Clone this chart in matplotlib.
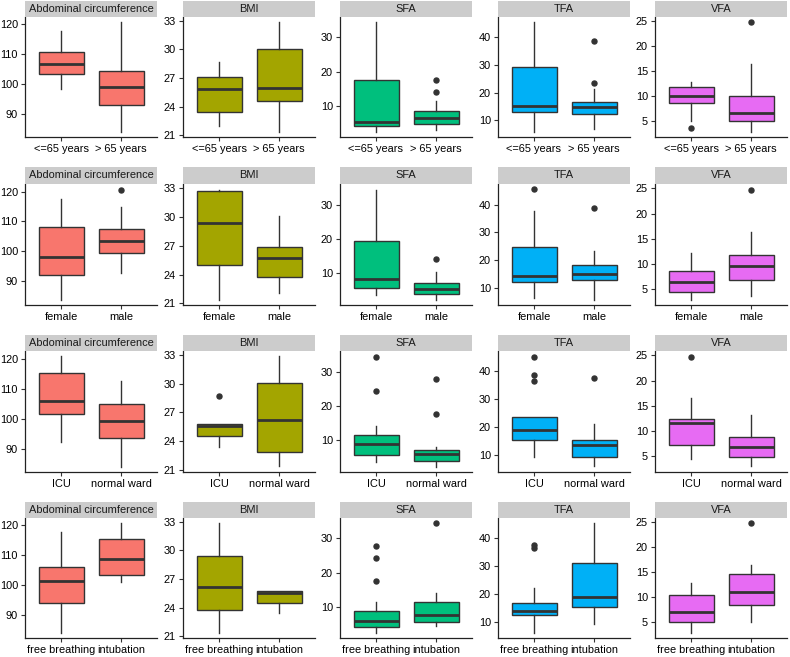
import matplotlib
matplotlib.use("Agg")
import matplotlib.pyplot as plt

plt.rcParams['font.family'] = ['Liberation Sans', 'DejaVu Sans']

variables = ["Abdominal circumference", "BMI", "SFA", "TFA", "VFA"]
colors = ["#F8766D", "#A3A500", "#00BF7D", "#00B0F6", "#E76BF3"]
yticks = [[90, 100, 110, 120], [21, 24, 27, 30, 33], [10, 20, 30],
          [10, 20, 30, 40], [5, 10, 15, 20, 25]]

age_groups = ["<=65 years", "> 65 years"]
sex_groups = ["female", "male"]
ward_groups = ["ICU", "normal ward"]
breath_groups = ["free breathing", "intubation"]

# box statistics per group: (lower whisker, Q1, median, Q3, upper whisker)
age_stats = {
    "Abdominal circumference": [(98.3, 103.4, 106.6, 110.7, 117.8), (84.2, 93.1, 99.2, 104.4, 120.6)],
    "BMI": [(22.0, 23.4, 25.8, 27.1, 28.7), (21.4, 24.6, 25.9, 30.05, 32.8)],
    "SFA": [(2.4, 3.95, 5.3, 17.5, 34.4), (2.9, 4.7, 6.3, 8.5, 11.3)],
    "TFA": [(6.0, 13.2, 15.4, 29.3, 45.4), (6.8, 12.3, 15.0, 16.8, 21.2)],
    "VFA": [(5.1, 8.7, 10.0, 11.9, 12.9), (2.9, 5.1, 6.6, 10.0, 16.4)],
}
age_outliers = {
    "Abdominal circumference": [[], []],
    "BMI": [[], []],
    "SFA": [[], [17.5, 14.1]],
    "TFA": [[], [38.8, 23.7]],
    "VFA": [[3.6], [24.8]],
}

sex_stats = {
    "Abdominal circumference": [(83.9, 92.0, 98.0, 108.2, 117.6), (92.7, 99.4, 103.6, 107.4, 115.0)],
    "BMI": [(21.4, 25.0, 29.4, 32.7, 32.85), (22.05, 23.7, 25.7, 26.86, 30.1)],
    "SFA": [(3.7, 5.7, 8.4, 19.3, 34.4), (2.3, 3.8, 5.3, 7.2, 10.4)],
    "TFA": [(6.7, 12.3, 14.5, 24.9, 37.7), (6.0, 13.0, 15.1, 18.4, 23.5)],
    "VFA": [(3.0, 4.4, 6.4, 8.6, 12.2), (3.7, 6.8, 9.6, 11.9, 16.4)],
}
sex_outliers = {
    "Abdominal circumference": [[], [120.7]],
    "BMI": [[], []],
    "SFA": [[], [14.0]],
    "TFA": [[45.4], [38.8]],
    "VFA": [[], [24.8]],
}

ward_stats = {
    "Abdominal circumference": [(92.1, 101.5, 105.9, 115.1, 120.7), (84.0, 93.5, 99.1, 105.0, 112.5)],
    "BMI": [(23.4, 24.6, 25.55, 25.8, 25.8), (21.4, 22.9, 26.2, 30.07, 32.8)],
    "SFA": [(3.7, 5.8, 8.9, 11.6, 14.1), (2.4, 4.1, 5.9, 7.3, 8.2)],
    "TFA": [(9.2, 15.3, 18.9, 23.6, 23.6), (5.9, 9.2, 13.5, 15.3, 21.3)],
    "VFA": [(4.3, 7.2, 11.5, 12.4, 16.5), (2.9, 4.7, 6.7, 8.8, 13.1)],
}
ward_outliers = {
    "Abdominal circumference": [[], []],
    "BMI": [[28.75], []],
    "SFA": [[34.4, 24.4], [27.9, 17.6]],
    "TFA": [[45.3, 38.8, 36.5], [37.7]],
    "VFA": [[24.8], []],
}

breath_stats = {
    "Abdominal circumference": [(84.0, 94.0, 101.3, 106.1, 117.8), (100.8, 103.3, 108.7, 115.3, 120.6)],
    "BMI": [(21.4, 23.8, 26.15, 29.4, 32.8), (23.4, 24.5, 25.55, 25.7, 25.7)],
    "SFA": [(2.4, 4.1, 5.8, 8.7, 11.4), (4.2, 5.4, 7.5, 11.4, 14.0)],
    "TFA": [(6.1, 12.4, 13.9, 16.7, 22.2), (9.0, 15.1, 18.9, 31.2, 45.3)],
    "VFA": [(2.9, 5.1, 7.0, 10.5, 12.9), (5.1, 8.5, 11.1, 14.7, 16.4)],
}
breath_outliers = {
    "Abdominal circumference": [[], []],
    "BMI": [[], []],
    "SFA": [[27.9, 24.4, 17.6], [34.4]],
    "TFA": [[37.7, 36.4], []],
    "VFA": [[], [24.8]],
}

rows = [
    (age_groups, age_stats, age_outliers),
    (sex_groups, sex_stats, sex_outliers),
    (ward_groups, ward_stats, ward_outliers),
    (breath_groups, breath_stats, breath_outliers),
]

W, H = 790, 657
fig = plt.figure(figsize=(W / 100, H / 100), dpi=100)

col_left = [25, 183, 340, 498, 655]
panel_w = 132
strip_top = [1, 167, 335, 502]
panel_top = [17, 184, 351, 518]
panel_bot = [137, 305, 472, 638]

FS = 7.9
edge = "#333333"

for r, (groups, stats, outl) in enumerate(rows):
    for c, var in enumerate(variables):
        x0 = col_left[c]
        ax = fig.add_axes([x0 / W, 1 - panel_bot[r] / H, panel_w / W,
                           (panel_bot[r] - panel_top[r]) / H])
        bxp_stats = []
        allv = []
        for g, (lo, q1, med, q3, hi) in enumerate(stats[var]):
            fl = outl[var][g]
            bxp_stats.append(dict(whislo=lo, q1=q1, med=med, q3=q3, whishi=hi,
                                  fliers=fl, label=groups[g]))
            allv += [lo, hi] + list(fl)
        ax.bxp(bxp_stats, positions=[1, 2], widths=0.75, patch_artist=True,
               showcaps=False,
               boxprops=dict(facecolor=colors[c], edgecolor=edge, linewidth=1.0),
               medianprops=dict(color=edge, linewidth=2.0, solid_capstyle='butt'),
               whiskerprops=dict(color=edge, linewidth=1.0),
               flierprops=dict(marker='o', markerfacecolor=edge, markeredgecolor=edge,
                               markersize=3.6, linestyle='none'))
        lo_v, hi_v = min(allv), max(allv)
        span = hi_v - lo_v
        ax.set_ylim(lo_v - 0.05 * span, hi_v + 0.05 * span)
        ax.set_xlim(0.4, 2.6)
        ax.set_yticks(yticks[c])
        ax.set_xticks([1, 2])
        ax.set_xticklabels(groups)
        for s in ["top", "right"]:
            ax.spines[s].set_visible(False)
        for s in ["left", "bottom"]:
            ax.spines[s].set_linewidth(0.9)
            ax.spines[s].set_color("#222222")
        ax.tick_params(axis='both', direction='out', length=3, width=0.8,
                       color=edge, labelsize=FS, labelcolor="black", pad=2)
        ax.set_facecolor("white")
        # strip
        sax = fig.add_axes([x0 / W, 1 - panel_top[r] / H, panel_w / W,
                            (panel_top[r] - strip_top[r]) / H])
        sax.set_facecolor("#CCCCCC")
        sax.set_xticks([])
        sax.set_yticks([])
        for s in sax.spines.values():
            s.set_visible(False)
        sax.text(0.5, 0.5, var, ha='center', va='center', fontsize=FS,
                 color="#1A1A1A", transform=sax.transAxes)

fig.savefig("out.png", dpi=100, facecolor="white")
